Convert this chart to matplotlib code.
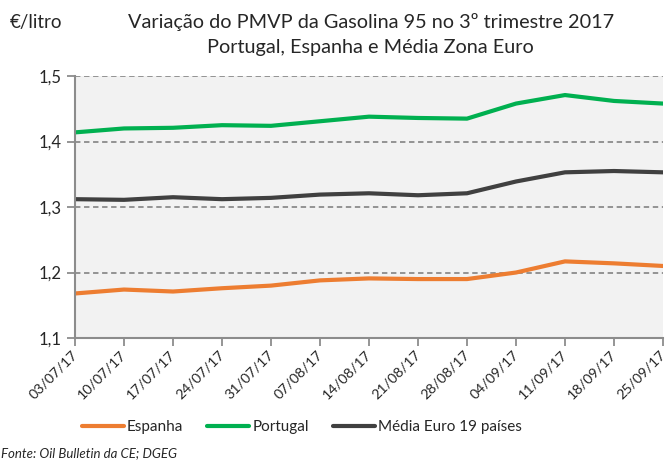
import matplotlib
matplotlib.use('Agg')
import matplotlib.pyplot as plt
import matplotlib.transforms as mtransforms

# ----data----
datas = ['03/07/17', '10/07/17', '17/07/17', '24/07/17', '31/07/17', '07/08/17',
         '14/08/17', '21/08/17', '28/08/17', '04/09/17', '11/09/17', '18/09/17',
         '25/09/17']
espanha = [1.168, 1.174, 1.171, 1.176, 1.180, 1.188, 1.191, 1.190, 1.190,
           1.200, 1.217, 1.214, 1.210]
portugal = [1.414, 1.420, 1.421, 1.425, 1.424, 1.431, 1.438, 1.436, 1.435,
            1.458, 1.471, 1.462, 1.458]
media_euro = [1.312, 1.311, 1.315, 1.312, 1.314, 1.319, 1.321, 1.318, 1.321,
              1.339, 1.353, 1.355, 1.353]
yticks = [1.1, 1.2, 1.3, 1.4, 1.5]

plt.rcParams['font.family'] = ['Lato', 'DejaVu Sans']
txt = '#262626'
axis_col = '#8C8C8C'

# ----initiate plot----
fig = plt.figure(figsize=(6.68, 4.61), dpi=100, facecolor='white')
ax = fig.add_axes([0.1123, 0.2668, 0.8802, 0.5682], facecolor='#F2F2F2')

x = list(range(len(datas)))
ax.plot(x, espanha, color='#ED7D31', lw=3, label='Espanha', solid_capstyle='round')
ax.plot(x, portugal, color='#00B050', lw=3, label='Portugal', solid_capstyle='round')
ax.plot(x, media_euro, color='#404040', lw=3, label='Média Euro 19 países',
        solid_capstyle='round')

# ----axes customization----
ax.set_xlim(0, len(datas) - 1)
ax.set_ylim(1.1, 1.5)
ax.set_yticks(yticks)
ax.set_yticklabels([f'{v:.1f}'.replace('.', ',') for v in yticks], fontsize=12, color=txt)
ax.set_xticks(x)
ax.set_xticklabels([])
# rotated date labels, nudged a little left so the last one stays inside the figure
lbl_trans = mtransforms.offset_copy(ax.get_xaxis_transform(), fig=fig,
                                    x=-4, y=-10, units='dots')
for xi, d in zip(x, datas):
    ax.text(xi, 0, d, transform=lbl_trans, rotation=45, ha='right', va='top',
            rotation_mode='anchor', fontsize=10.3, color=txt, clip_on=False)
ax.tick_params(axis='both', colors=axis_col, labelcolor=txt, length=6, width=1.3)
for s in ['top', 'right']:
    ax.spines[s].set_visible(False)
for s in ['left', 'bottom']:
    ax.spines[s].set_color(axis_col)
    ax.spines[s].set_linewidth(1.5)
ax.yaxis.grid(True, color='#8C8C8C', linestyle=(0, (3, 2)), linewidth=1.3)
ax.set_axisbelow(True)

# ----titles----
fig.text(0.015, 0.952, '€/litro', fontsize=13.5, color=txt, va='center')
fig.text(0.555, 0.952, 'Variação do PMVP da Gasolina 95 no 3º trimestre 2017',
         fontsize=14.3, color=txt, ha='center', va='center')
fig.text(0.555, 0.898, 'Portugal, Espanha e Média Zona Euro',
         fontsize=14.3, color=txt, ha='center', va='center')

# ----legend----
fig.legend(loc='center', bbox_to_anchor=(0.452, 0.074), ncol=3, frameon=False,
           fontsize=11, handlelength=2.75, handletextpad=0.2, columnspacing=1.6,
           labelcolor=txt)

fig.text(0.002, 0.004, 'Fonte: Oil Bulletin da CE; DGEG', fontsize=9.5,
         style='italic', color=txt, va='bottom')

fig.savefig('out.png', dpi=100, facecolor='white')
